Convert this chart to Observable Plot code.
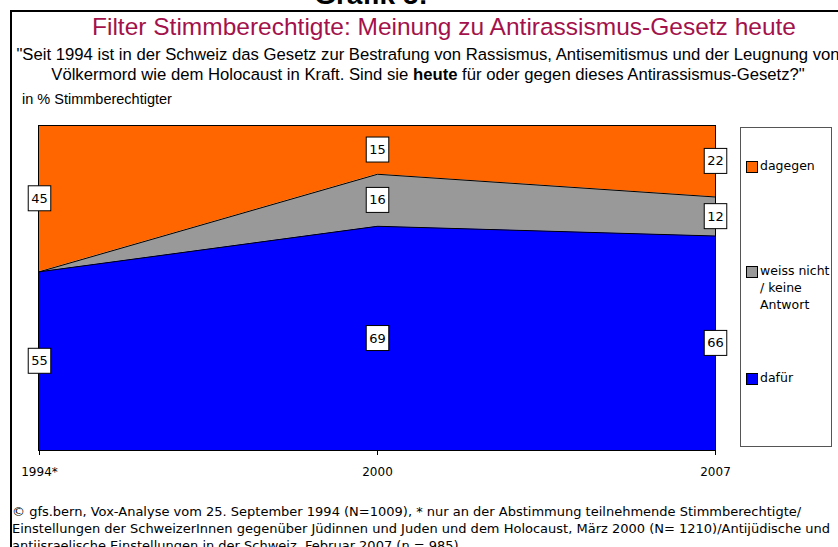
<!DOCTYPE html>
<html><head><meta charset="utf-8">
<script src="https://cdn.jsdelivr.net/npm/d3@7"></script>
<script src="https://cdn.jsdelivr.net/npm/@observablehq/plot@0.6"></script>
<style>
body{margin:0;background:#fff;}
#wrap{position:relative;width:838px;height:547px;overflow:hidden;background:#fff;}
.abs{position:absolute;white-space:nowrap;}
.narrow{font-family:"Liberation Sans",Arial,sans-serif;}
.tah{font-family:"DejaVu Sans",sans-serif;font-size:12px;}
#frame{position:absolute;left:10px;top:10px;width:900px;height:600px;border-left:2px solid #000;border-top:2px solid #000;}
#legend{position:absolute;left:740px;top:127px;width:92px;height:320px;border:1px solid #555;background:#fff;box-sizing:border-box;}
.sw{position:absolute;width:10px;height:10px;border:1px solid #000;}
.lt{position:absolute;line-height:17px;white-space:nowrap;}
#chart{position:absolute;left:0;top:110px;}
</style></head><body><div id="wrap">
<div class="abs" id="grafik" style="left:-129px;width:1000px;top:-20px;line-height:30px;text-align:center;font-family:'Liberation Sans',Arial,sans-serif;font-weight:bold;font-size:28px;"></div>
<div id="frame"></div>
<div class="abs narrow" id="title" style="left:-56px;width:1000px;top:13px;text-align:center;font-size:24.5px;color:#A3124B;"></div>
<div class="abs narrow" id="sub1" style="left:-72px;width:1000px;top:45px;text-align:center;font-size:16.7px;"></div>
<div class="abs narrow" id="sub2" style="left:-72px;width:1000px;top:65px;text-align:center;font-size:16.7px;"></div>
<div class="abs narrow" id="unit" style="left:22px;top:91px;font-size:14.5px;"></div>
<div id="chart"></div>
<div id="legend"></div>
<div class="abs tah" id="foot" style="left:12px;top:503px;line-height:17px;font-size:13px;"></div>
</div>
<script>
const grafikText = "Grafik 5:";
const titleText = "Filter Stimmberechtigte: Meinung zu Antirassismus-Gesetz heute";
const subLine1 = "\"Seit 1994 ist in der Schweiz das Gesetz zur Bestrafung von Rassismus, Antisemitismus und der Leugnung von";
const subLine2a = "Völkermord wie dem Holocaust in Kraft. Sind sie ";
const subLine2b = "heute";
const subLine2c = " für oder gegen dieses Antirassismus-Gesetz?\"";
const unitText = "in % Stimmberechtigter";
const footLines = [
  "© gfs.bern, Vox-Analyse vom 25. September 1994 (N=1009), * nur an der Abstimmung teilnehmende Stimmberechtigte/",
  "Einstellungen der SchweizerInnen gegenüber Jüdinnen und Juden und dem Holocaust, März 2000 (N= 1210)/Antijüdische und",
  "antiisraelische Einstellungen in der Schweiz, Februar 2007 (n = 985)"
];

const years = ["1994*", "2000", "2007"];
const dafuer = [55, 69, 66];
const weissNicht = [0, 16, 12];
const dagegen = [45, 15, 22];
const seriesNames = ["dafür", "weiss nicht / keine Antwort", "dagegen"];
const seriesColors = ["#0000FF", "#999999", "#FF6600"];
const legendOrder = ["dagegen", "weiss nicht / keine Antwort", "dafür"];
const legendLines = {"dagegen": ["dagegen"], "weiss nicht / keine Antwort": ["weiss nicht", "/ keine", "Antwort"], "dafür": ["dafür"]};

document.getElementById("grafik").textContent = grafikText;
document.getElementById("title").textContent = titleText;
document.getElementById("sub1").textContent = subLine1;
const s2 = document.getElementById("sub2");
s2.append(subLine2a);
const b = document.createElement("b"); b.textContent = subLine2b; s2.append(b);
s2.append(subLine2c);
document.getElementById("unit").textContent = unitText;
const foot = document.getElementById("foot");
footLines.forEach(l => { const d = document.createElement("div"); d.textContent = l; foot.append(d); });

const seriesValues = [dafuer, weissNicht, dagegen];
const rows = [];
seriesNames.forEach((s, i) => years.forEach((y, j) => rows.push({year: y, series: s, value: seriesValues[i][j]})));

const chart = Plot.plot({
  width: 838, height: 370,
  marginLeft: 38, marginRight: 123, marginTop: 15, marginBottom: 30,
  style: {fontFamily: "DejaVu Sans", fontSize: "12px", background: "transparent", overflow: "visible"},
  x: {type: "point", domain: years, padding: 0, label: null},
  y: {domain: [0, 100], axis: null},
  color: {domain: seriesNames, range: seriesColors},
  marks: [
    Plot.areaY(rows, {x: "year", y: "value", z: "series", fill: "series", order: seriesNames}),
    Plot.lineY(rows, Plot.stackY2({x: "year", y: "value", z: "series", order: seriesNames, stroke: "black", strokeWidth: 1})),
    Plot.frame({stroke: "black", strokeWidth: 1}),
    Plot.axisX({tickSize: 5, tickPadding: 12, fontSize: 12, label: null}),
    Plot.text(rows, Plot.stackY({x: "year", y: "value", z: "series", order: seriesNames, text: d => String(d.value), filter: d => d.value > 0, fill: "black", fontSize: 13}))
  ]
});
document.getElementById("chart").append(chart);

// white label boxes behind value labels
const textGroup = chart.querySelector('g[aria-label="text"]');
if (textGroup) {
  textGroup.querySelectorAll("text").forEach(t => {
    const bb = t.getBBox();
    const r = document.createElementNS("http://www.w3.org/2000/svg", "rect");
    r.setAttribute("x", bb.x - 3);
    r.setAttribute("y", bb.y - 5);
    r.setAttribute("width", bb.width + 6);
    r.setAttribute("height", bb.height + 10);
    r.setAttribute("fill", "white");
    r.setAttribute("stroke", "black");
    r.setAttribute("stroke-width", 1);
    const tr = t.getAttribute("transform");
    if (tr) r.setAttribute("transform", tr);
    t.parentNode.insertBefore(r, t);
  });
}

// legend
const legend = document.getElementById("legend");
const colorOf = s => seriesColors[seriesNames.indexOf(s)];
const legendTops = [32, 137, 244];
legendOrder.forEach((s, i) => {
  const top = legendTops[i];
  const sw = document.createElement("div");
  sw.className = "sw"; sw.style.left = "5px"; sw.style.top = (top + 1) + "px"; sw.style.background = colorOf(s);
  legend.append(sw);
  const t = document.createElement("div");
  t.className = "lt tah"; t.style.left = "19px"; t.style.top = (top - 3) + "px"; t.style.fontSize = "12.5px";
  t.innerHTML = legendLines[s].join("<br>");
  legend.append(t);
});
</script>
</body></html>
